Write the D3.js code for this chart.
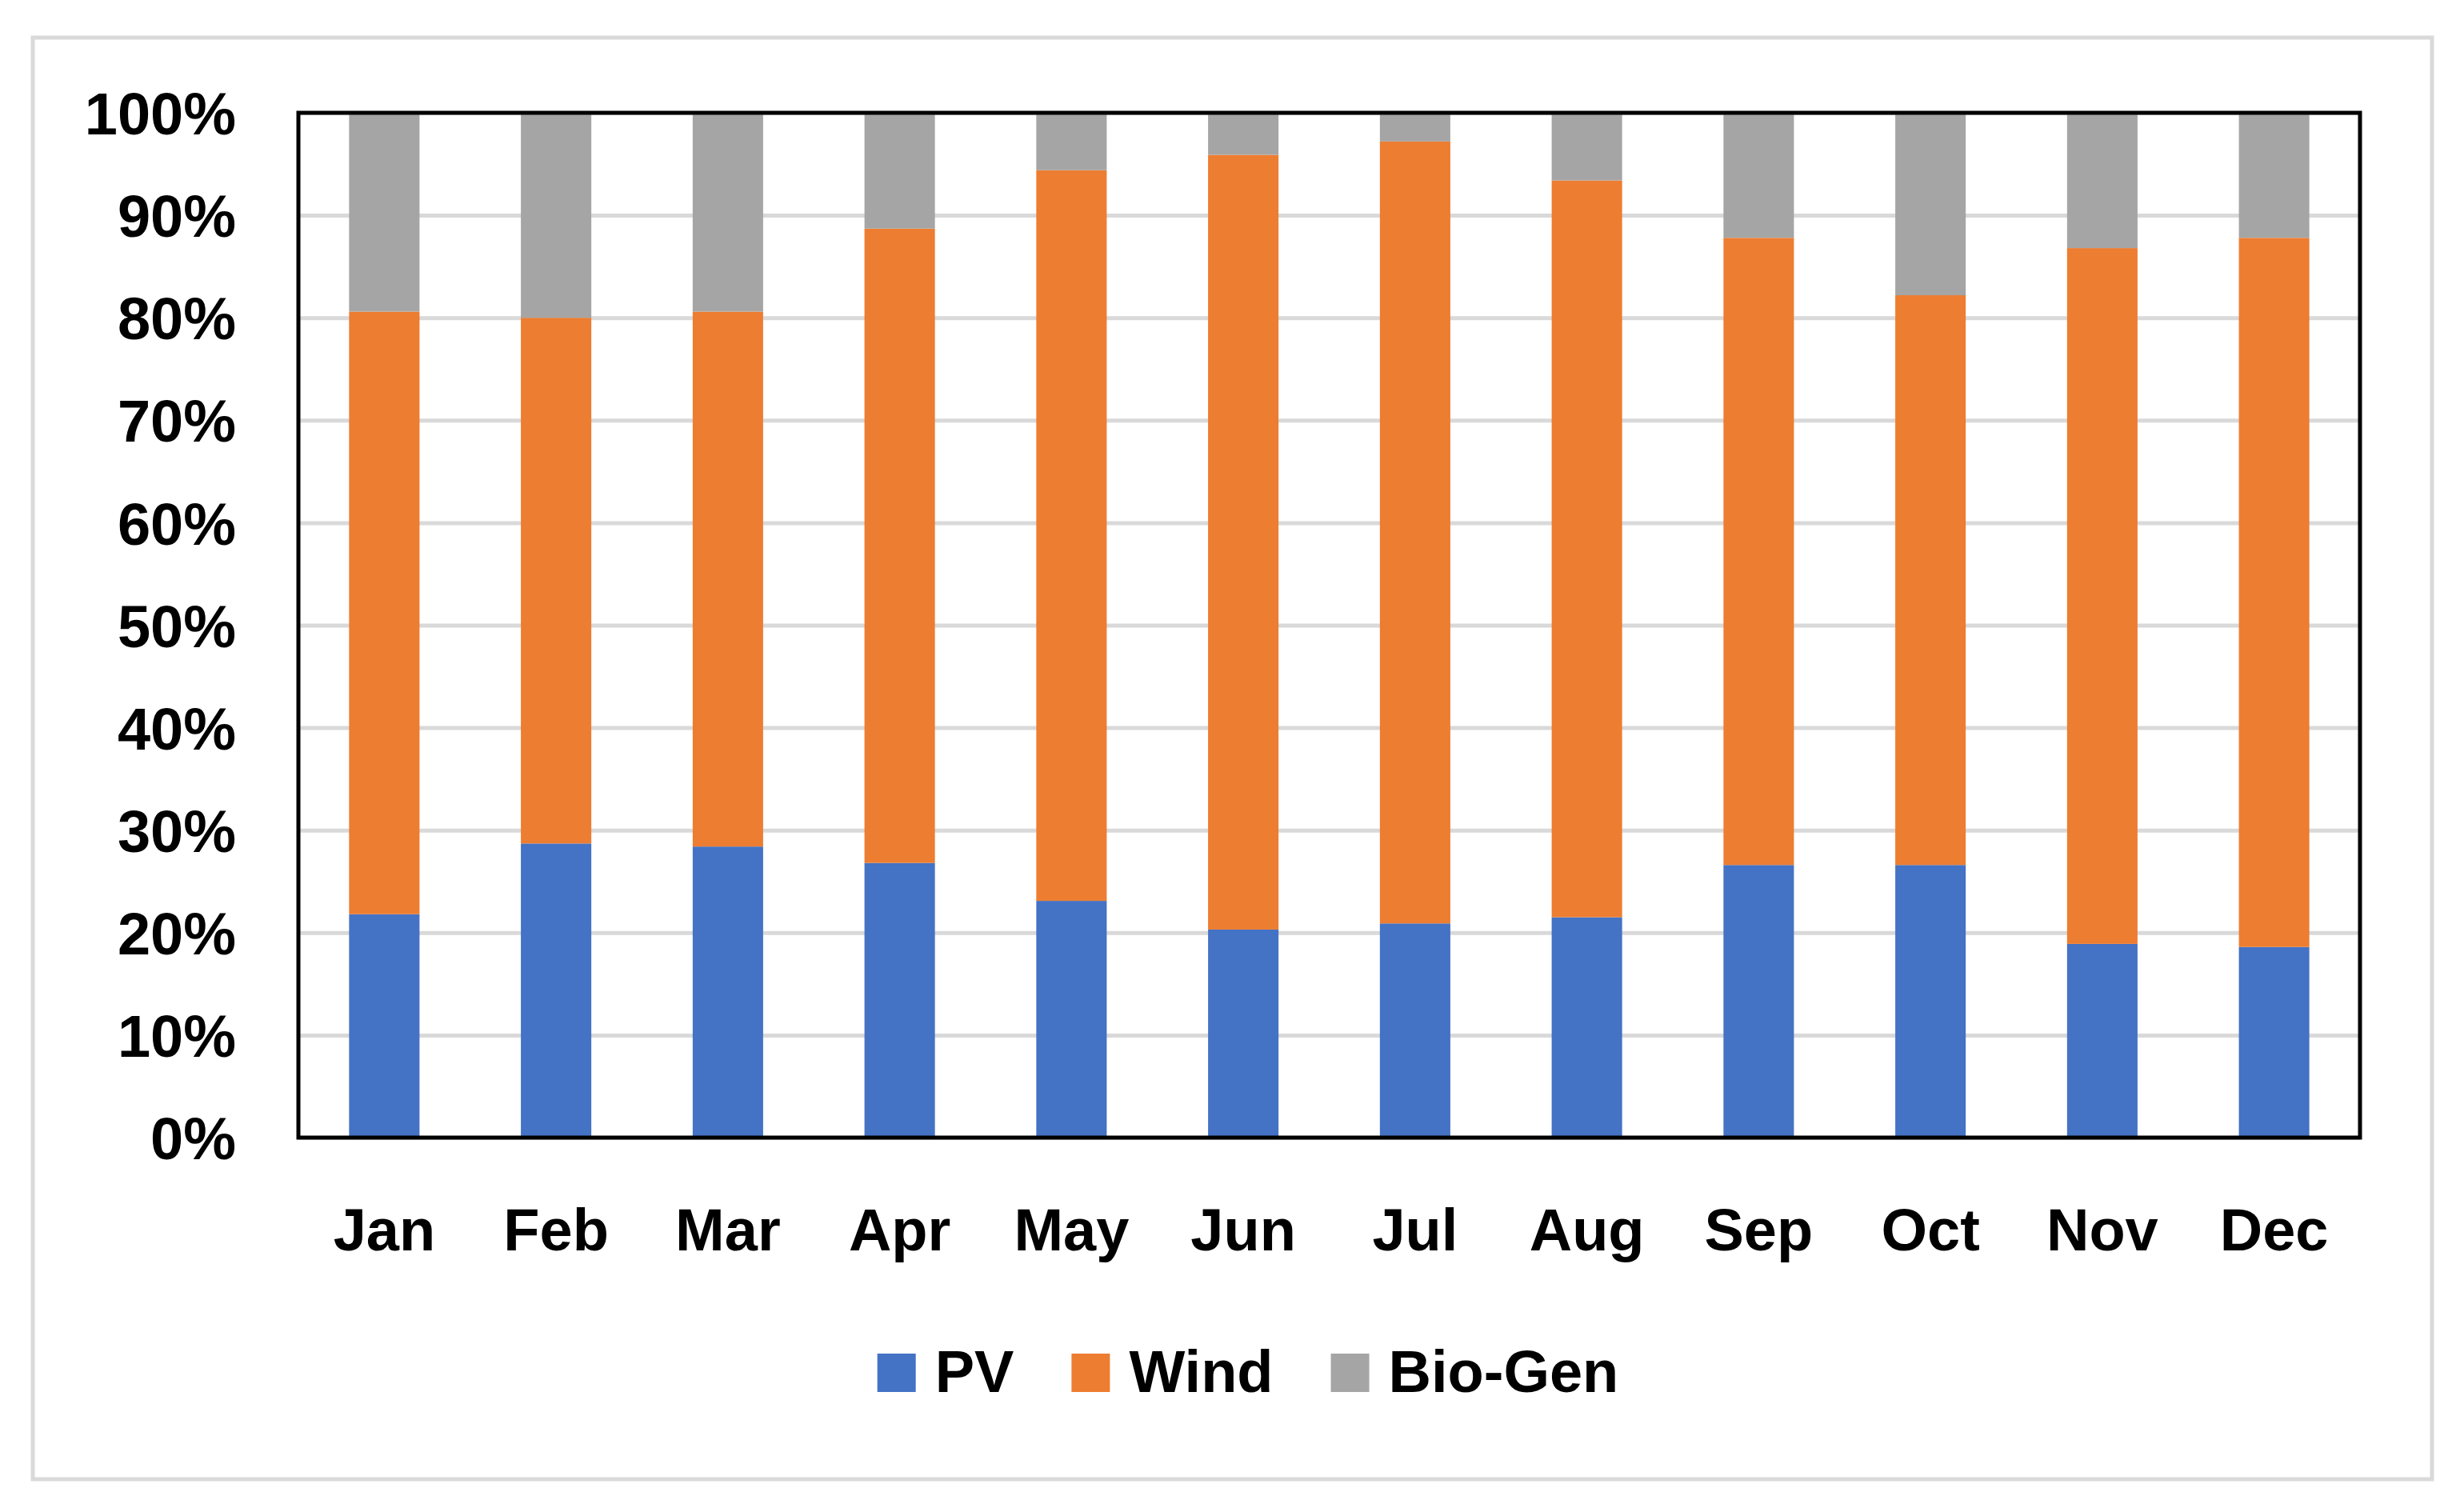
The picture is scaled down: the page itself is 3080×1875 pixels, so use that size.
<!DOCTYPE html>
<html>
<head>
<meta charset="utf-8">
<script src="https://cdn.jsdelivr.net/npm/d3@7"></script>
<style>
  body { margin: 0; background: #fff; }
  svg text { font-family: "Liberation Sans", Arial, sans-serif; font-weight: bold; fill: #000; }
</style>
</head>
<body>
<div id="chart"></div>
<script>
// values (percent of monthly total)
var months = ["Jan", "Feb", "Mar", "Apr", "May", "Jun", "Jul", "Aug", "Sep", "Oct", "Nov", "Dec"];
var pv     = [21.8, 28.7, 28.4, 26.8, 23.1, 20.3, 20.9, 21.5, 26.6, 26.6, 18.9, 18.6];
var wind   = [58.8, 51.3, 52.2, 61.9, 71.3, 75.6, 76.3, 71.9, 61.2, 55.6, 67.9, 69.2];
var bioGen = [19.4, 20.0, 19.4, 11.3, 5.6, 4.1, 2.8, 6.6, 12.2, 17.8, 13.2, 12.2];
var seriesNames = ["PV", "Wind", "Bio-Gen"];
var seriesColors = ["#4472C4", "#ED7D31", "#A5A5A5"];
var yTicks = [0, 0.1, 0.2, 0.3, 0.4, 0.5, 0.6, 0.7, 0.8, 0.9, 1];

var w = 3080;
var h = 1875;
var plot = {left: 373, top: 141, right: 2950, bottom: 1422};

var rows = months.map(function(m, i) {
	return {month: m, "PV": pv[i], "Wind": wind[i], "Bio-Gen": bioGen[i]};
});

var svg = d3.select("#chart")
			.append("svg")
			.attr("width", w)
			.attr("height", h);

// outer chart frame
svg.append("rect")
	.attr("x", 41).attr("y", 47)
	.attr("width", 3040 - 41).attr("height", 1849 - 47)
	.attr("fill", "#fff")
	.attr("stroke", "#d9d9d9")
	.attr("stroke-width", 5);

var x = d3.scaleBand()
		  .domain(months)
		  .range([plot.left, plot.right])
		  .paddingInner(0.59)
		  .paddingOuter(0.295);

var y = d3.scaleLinear()
		  .domain([0, 1])
		  .range([plot.bottom, plot.top]);

var color = d3.scaleOrdinal()
			  .domain(seriesNames)
			  .range(seriesColors);

// gridlines
var grid = svg.append("g")
			  .attr("transform", "translate(" + plot.left + ",0)")
			  .call(d3.axisLeft(y)
					  .tickValues(yTicks)
					  .tickSize(-(plot.right - plot.left))
					  .tickFormat(""));
grid.select(".domain").remove();
grid.selectAll("line")
	.attr("stroke", "#d9d9d9")
	.attr("stroke-width", 5);

// stacked bars
var stacked = d3.stack().keys(seriesNames)(rows);

svg.append("g")
	.selectAll("g")
	.data(stacked)
	.enter()
	.append("g")
	.attr("fill", d => color(d.key))
	.selectAll("rect")
	.data(d => d)
	.enter()
	.append("rect")
	.attr("x", d => x(d.data.month))
	.attr("width", x.bandwidth())
	.attr("y", d => y(d[1] / 100))
	.attr("height", d => y(d[0] / 100) - y(d[1] / 100));

// plot border
svg.append("rect")
	.attr("x", plot.left).attr("y", plot.top)
	.attr("width", plot.right - plot.left)
	.attr("height", plot.bottom - plot.top)
	.attr("fill", "none")
	.attr("stroke", "#000")
	.attr("stroke-width", 5);

// y axis labels
var yAxis = svg.append("g")
			   .attr("transform", "translate(" + plot.left + ",0)")
			   .call(d3.axisLeft(y)
					   .tickValues(yTicks)
					   .tickSize(0)
					   .tickPadding(78)
					   .tickFormat(d3.format(".0%")));
yAxis.select(".domain").remove();
yAxis.selectAll("text")
	 .attr("font-size", 74)
	 .attr("dy", "0.36em");

// x axis labels
var xAxis = svg.append("g")
			   .attr("transform", "translate(0," + plot.bottom + ")")
			   .call(d3.axisBottom(x).tickSize(0).tickPadding(88));
xAxis.select(".domain").remove();
xAxis.selectAll("text")
	 .attr("font-size", 74)
	 .attr("dy", "0.71em");

// legend
var legend = svg.append("g");
var item = legend.selectAll("g")
				 .data(seriesNames)
				 .enter()
				 .append("g");
item.append("rect")
	.attr("width", 48).attr("height", 48)
	.attr("y", -48)
	.attr("fill", d => color(d));
item.append("text")
	.attr("x", 72)
	.attr("font-size", 74)
	.text(d => d);

var pos = 0;
var offsets = [];
item.each(function(d) {
	offsets.push(pos);
	pos += 72 + this.querySelector("text").getComputedTextLength() + 72;
});
var total = pos - 72;
var start = 1560 - total / 2;
item.attr("transform", (d, i) => "translate(" + (start + offsets[i]) + ",1740)");
</script>
</body>
</html>
